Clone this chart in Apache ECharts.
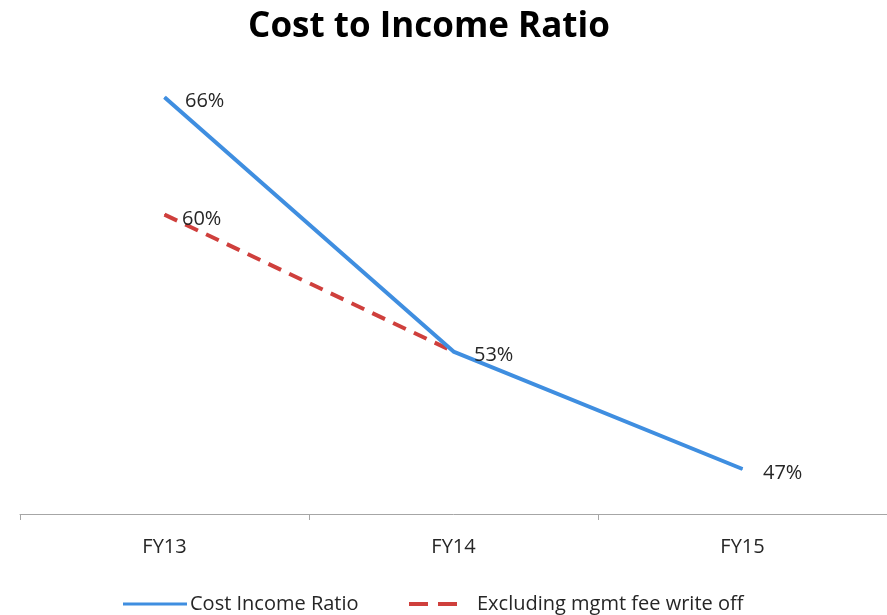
<!DOCTYPE html>
<html>
<head>
<meta charset="utf-8">
<script src="https://cdn.jsdelivr.net/npm/echarts@6/dist/echarts.min.js"></script>
<style>
html,body{margin:0;padding:0;background:#fff;}
#chart{width:887px;height:615px;}
</style>
</head>
<body>
<div id="chart"></div>
<script>
const categories = ['FY13', 'FY14', 'FY15'];
const costIncomeRatio = [66, 53, 47];
const exclMgmtFee = [60, 53, null];
const seriesNames = ['Cost Income Ratio', 'Excluding mgmt fee write off'];

const chart = echarts.init(document.getElementById('chart'));
const labelFont = { fontFamily: 'Open Sans', fontSize: 20, color: '#262626' };

chart.setOption({
  animation: false,
  backgroundColor: '#ffffff',
  title: {
    text: 'Cost to Income Ratio',
    left: 424,
    textAlign: 'center',
    top: 5,
    textStyle: { fontFamily: 'Open Sans', fontWeight: 'bold', fontSize: 35, color: '#000' }
  },
  legend: [
    {
      left: 118, top: 589,
      itemWidth: 64, itemHeight: 3,
      itemGap: 0,
      data: [{ name: seriesNames[0], icon: 'path://M0,0H64V3H0Z' }],
      textStyle: { fontFamily: 'Open Sans', fontSize: 20, color: '#262626', padding: [0, 0, 0, -2] }
    },
    {
      left: 404, top: 589,
      itemWidth: 48, itemHeight: 4,
      data: [{ name: seriesNames[1], icon: 'path://M0,0H19V4H0ZM29,0H48V4H29Z' }],
      textStyle: { fontFamily: 'Open Sans', fontSize: 20, color: '#262626', padding: [0, 0, 0, 15] }
    }
  ],
  grid: { left: 20, top: 60, width: 870, bottom: 101 },
  xAxis: {
    type: 'category',
    data: categories,
    boundaryGap: true,
    axisLine: { lineStyle: { color: '#a6a6a6', width: 1 } },
    axisTick: { show: true, length: 6, lineStyle: { color: '#a6a6a6' } },
    axisLabel: { margin: 23, fontFamily: 'Open Sans', fontSize: 20, color: '#262626' }
  },
  yAxis: {
    type: 'value',
    min: 44.7, max: 67.9,
    show: false,
    splitLine: { show: false }
  },
  series: [
    {
      name: seriesNames[1],
      type: 'line',
      data: exclMgmtFee,
      symbol: 'circle', symbolSize: 1,
      z: 2,
      itemStyle: { color: '#cf3f3c' },
      lineStyle: { color: '#cf3f3c', width: 4, type: [14, 9] },
      label: {
        show: true,
        position: 'right',
        distance: 17,
        offset: [0, 5],
        formatter: p => (p.dataIndex === 0 ? p.value + '%' : ''),
        ...labelFont
      }
    },
    {
      name: seriesNames[0],
      type: 'line',
      data: costIncomeRatio,
      symbol: 'circle', symbolSize: 1,
      z: 3,
      itemStyle: { color: '#3f8ee0' },
      lineStyle: { color: '#3f8ee0', width: 4 },
      label: {
        show: true,
        position: 'right',
        distance: 20,
        offset: [0, 4],
        formatter: '{c}%',
        ...labelFont
      }
    }
  ]
});
</script>
</body>
</html>
